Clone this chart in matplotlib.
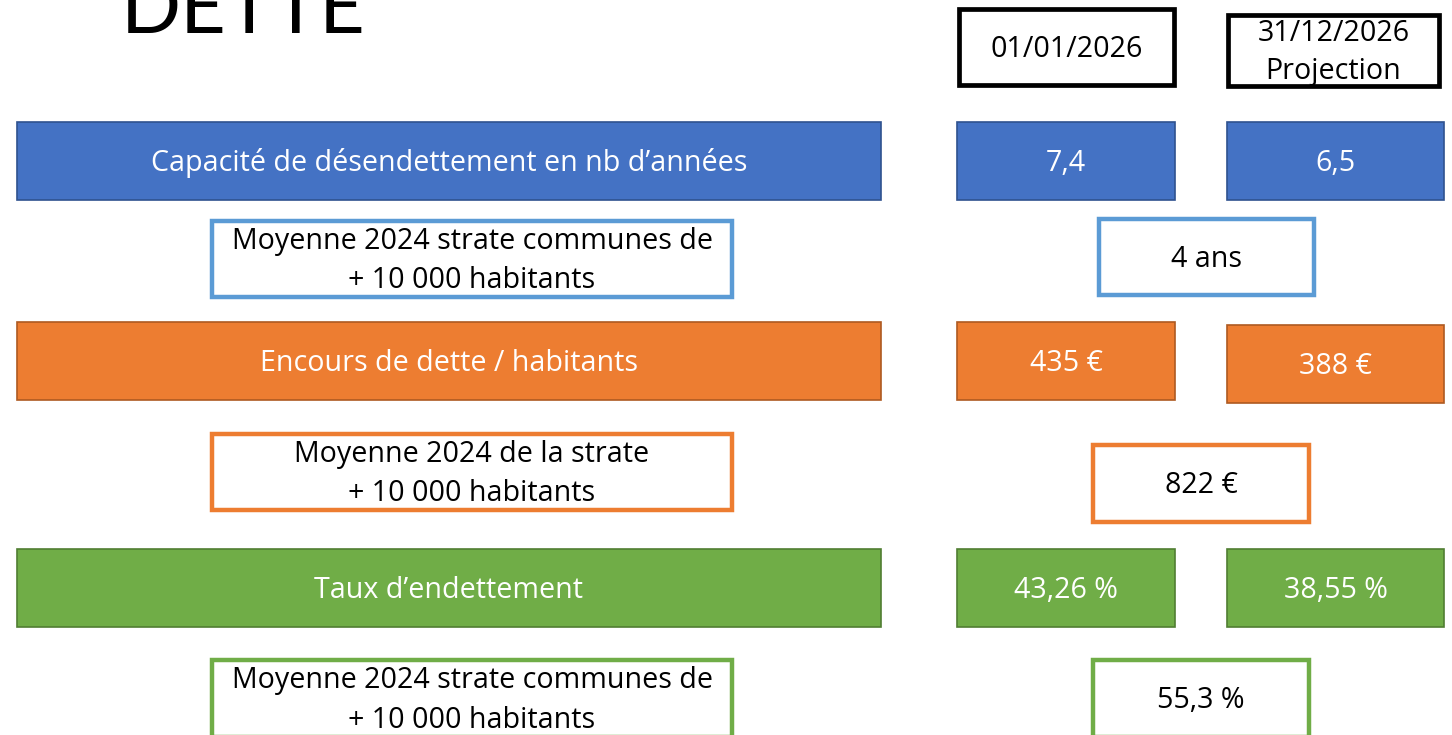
import matplotlib
matplotlib.use("Agg")
import matplotlib.pyplot as plt
from matplotlib.patches import Rectangle

# slide content
title = "DETTE"
headers = ["01/01/2026", "31/12/2026\nProjection"]
indicators = ["Capacité de désendettement en nb d’années",
              "Encours de dette / habitants",
              "Taux d’endettement"]
values_start = ["7,4", "435 €", "43,26 %"]
values_end = ["6,5", "388 €", "38,55 %"]
strata_labels = ["Moyenne 2024 strate communes de\n+ 10 000 habitants",
                 "Moyenne 2024 de la strate\n+ 10 000 habitants",
                 "Moyenne 2024 strate communes de\n+ 10 000 habitants"]
strata_values = ["4 ans", "822 €", "55,3 %"]

fills = ["#4472C4", "#ED7D31", "#70AD47"]
edges = ["#2F528F", "#AE5A21", "#507E32"]
outlines = ["#5B9BD5", "#ED7D31", "#70AD47"]

# layout in pixels (x0, x1, y0, y1)
bar_box = [(17, 881, 122, 200), (17, 881, 322, 400), (17, 881, 549, 627)]
start_box = [(957, 1175, 122, 200), (957, 1175, 322, 400), (957, 1175, 549, 627)]
end_box = [(1227, 1444, 122, 200), (1227, 1444, 325, 403), (1227, 1444, 549, 627)]
strata_left = [(212, 732, 221, 297), (212, 732, 434, 510), (212, 732, 660, 737)]
strata_right = [(1099, 1314, 219, 295), (1093, 1309, 445, 522), (1093, 1309, 660, 737)]
header_box = [(959, 1174, 9, 85), (1228, 1439, 15, 86)]

FONT = "Open Sans"
FS = 20.6

fig = plt.figure(figsize=(14.52, 7.35), dpi=100)
ax = fig.add_axes([0, 0, 1, 1])
ax.set_xlim(0, 1452)
ax.set_ylim(735, 0)
ax.axis("off")


def box(b, fc, ec, lw, txt, color, ls=1.49):
    x0, x1, y0, y1 = b
    ax.add_patch(Rectangle((x0, y0), x1 - x0, y1 - y0, facecolor=fc,
                           edgecolor=ec, linewidth=lw, clip_on=False))
    ax.text((x0 + x1) / 2, (y0 + y1) / 2 + 2, txt, ha="center", va="center",
            color=color, fontsize=FS, family=FONT, linespacing=ls,
            multialignment="center")


ax.text(121, 33, title, ha="left", va="baseline", fontsize=57,
        family="Lato", fontweight="normal", color="black")

for b, h in zip(header_box, headers):
    box(b, "white", "black", 3.4, h, "black", ls=1.42)

for i in range(3):
    box(bar_box[i], fills[i], edges[i], 1.2, indicators[i], "white")
    box(start_box[i], fills[i], edges[i], 1.2, values_start[i], "white")
    box(end_box[i], fills[i], edges[i], 1.2, values_end[i], "white")
    box(strata_left[i], "white", outlines[i], 3.2, strata_labels[i], "black")
    box(strata_right[i], "white", outlines[i], 3.2, strata_values[i], "black")

fig.savefig("out.png", dpi=100)
